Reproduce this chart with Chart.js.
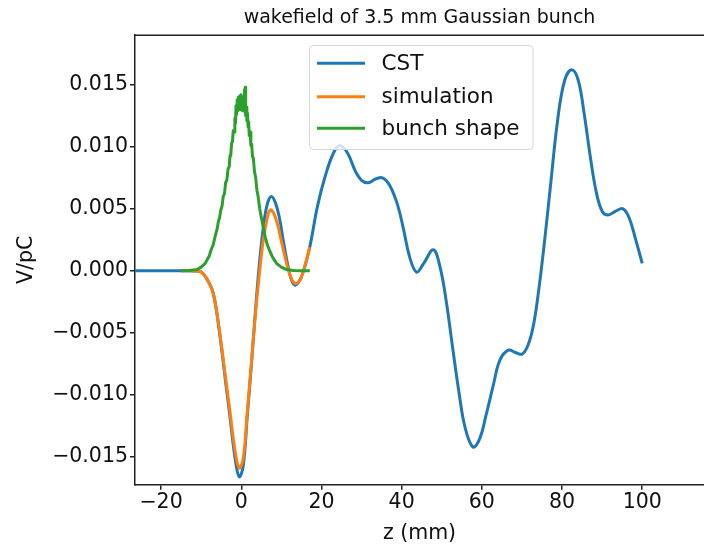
<!DOCTYPE html>
<html>
<head>
<meta charset="utf-8">
<script src="https://cdn.jsdelivr.net/npm/chart.js@4.4.1/dist/chart.umd.min.js"></script>
<style>
  html, body { margin: 0; padding: 0; background: #fff; }
</style>
</head>
<body>
<canvas id="chart" width="704" height="549"></canvas>
<script>
// ============================
// Data
// ============================
const titleText = "wakefield of 3.5 mm Gaussian bunch";
const seriesNames = ["CST", "simulation", "bunch shape"];
const seriesColors = ["#1f77b4", "#ff7f0e", "#2ca02c"];

const xTicks = [-20, 0, 20, 40, 60, 80, 100];
const yTicks = [-0.015, -0.010, -0.005, 0.000, 0.005, 0.010, 0.015];
const xMin = -26.5, xMax = 115.4;
const yMin = -0.01724, yMax = 0.01901;

const cstZ = [-26.5, -14, -12, -10, -8.5, -7, -5.5, -4, -2.8, -1.5, -0.5, 0.5, 1.5, 2.5, 3.5, 4.5, 5.5, 6.5, 7.5, 8.5,
  9.5, 10.5, 11.7, 12.6, 13.5, 15, 17, 19, 21, 23, 24.6, 26.5, 28.5, 30, 31.6, 33.5, 35.2, 37, 39, 40.5,
  42, 43.7, 45.5, 47.9, 49.5, 51, 52.8, 54.3, 55.8, 57.8, 59.5, 61, 62.8, 64.5, 66.6, 68.5, 70.1, 71.5, 72.8, 74,
  75.5, 77, 79, 80.7, 82.4, 84, 85.5, 87, 88.5, 90, 91.5, 93.3, 95.2, 96.7, 98.3, 100];
const cstV = [0, 0, -0.00002, -0.0001, -0.0007, -0.0018, -0.0048, -0.0087, -0.0118, -0.0152, -0.0166, -0.0157, -0.0117, -0.0077, -0.0034, 0.0005, 0.0035, 0.0054, 0.0060, 0.0055,
  0.0043, 0.0024, 0.0003, -0.0008, -0.00115, -0.0005, 0.0018, 0.0052, 0.0077, 0.0095, 0.0101, 0.0095, 0.0080, 0.0073, 0.0071, 0.0074, 0.0075, 0.0069, 0.0053, 0.0033,
  0.0011, -0.0001, 0.0006, 0.0017, 0.0004, -0.0022, -0.0064, -0.0098, -0.0126, -0.0142, -0.0135, -0.0117, -0.0093, -0.0072, -0.0064, -0.0066, -0.0067, -0.0060, -0.0045, -0.0020,
  0.0020, 0.0065, 0.0124, 0.0154, 0.0162, 0.0154, 0.0127, 0.0093, 0.0064, 0.0048, 0.0045, 0.0048, 0.0050, 0.0043, 0.0026, 0.0006];

const simZ = [-15, -12, -10, -8.5, -7, -5.5, -4, -2.8, -1.5, -0.5, 0.5, 1.5, 2.5, 3.5, 4.5, 5.5, 6.5, 7.2, 8, 9,
  10, 11, 12, 13.3, 14.5, 15.5, 17.1];
const simV = [0, 0, -0.0001, -0.0007, -0.0018, -0.0047, -0.0084, -0.0114, -0.0146, -0.0159, -0.0151, -0.0114, -0.0075, -0.0036, -0.0003, 0.0025, 0.0043, 0.0049, 0.0047, 0.0038,
  0.0024, 0.0010, -0.0002, -0.0010, -0.0008, 0.0000, 0.0019];

const bunchZ = [-15, -13, -11, -10, -9, -8, -7.5, -7, -6.5, -6, -5.7, -5.4, -5.1, -4.8, -4.5, -4.2, -3.9, -3.6, -3.3, -3.0,
  -2.8, -2.6, -2.4, -2.2, -2.0, -1.8, -1.6, -1.45, -1.3, -1.15, -1.0, -0.85, -0.7, -0.55, -0.4, -0.25, -0.1, 0.05, 0.2, 0.35,
  0.5, 0.65, 0.8, 0.9, 1.0, 1.1, 1.25, 1.4, 1.55, 1.7, 1.85, 2.0, 2.2, 2.4, 2.6, 2.8, 3.0, 3.3, 3.6, 3.9,
  4.2, 4.6, 5.0, 5.5, 6.0, 6.5, 7.1, 7.8, 8.8, 10, 11.3, 13, 15, 17.1];
const bunchV = [0, 0.00002, 0.0001, 0.0003, 0.0006, 0.0012, 0.0017, 0.0021, 0.0028, 0.0034, 0.0040, 0.0043, 0.0049, 0.0052, 0.0060, 0.0062, 0.0071, 0.0073, 0.0082, 0.0084,
  0.0093, 0.0094, 0.0103, 0.0104, 0.0113, 0.0112, 0.0123, 0.0119, 0.0133, 0.0126, 0.0138, 0.0129, 0.0140, 0.0131, 0.0141, 0.0130, 0.0142, 0.0131, 0.0140, 0.0129,
  0.0139, 0.0130, 0.0146, 0.0128, 0.0148, 0.0125, 0.0132, 0.0121, 0.0127, 0.0116, 0.0120, 0.0109, 0.0112, 0.0101, 0.0102, 0.0092, 0.0091, 0.0080, 0.0075, 0.0065,
  0.0060, 0.0050, 0.0043, 0.0035, 0.0027, 0.0021, 0.0016, 0.0011, 0.0006, 0.0003, 0.0001, 0.00003, 0, 0];

function toPoints(zs, vs) {
  return zs.map((z, i) => ({ x: z, y: vs[i] }));
}

function fmtMinus(s) {
  return s.replace("-", "\u2212");
}

const FONT = "'DejaVu Sans', sans-serif";
const TEXT = "#111";
const AXIS = "#222";

// ============================
// Plugins: top frame + legend box
// ============================
const framePlugin = {
  id: "frame",
  afterDraw(chart) {
    const { ctx, chartArea } = chart;
    ctx.save();
    ctx.strokeStyle = AXIS;
    ctx.lineWidth = 1.5;
    ctx.beginPath();
    ctx.moveTo(chartArea.left, chartArea.top + 0.25);
    ctx.lineTo(chartArea.right, chartArea.top + 0.25);
    ctx.stroke();
    ctx.restore();
  }
};

const legendPlugin = {
  id: "boxLegend",
  afterDraw(chart) {
    const ctx = chart.ctx;
    const x0 = 309.5, y0 = 45.5, w = 223.5, h = 104, r = 4;
    ctx.save();
    ctx.beginPath();
    ctx.roundRect(x0, y0, w, h, r);
    ctx.fillStyle = "rgba(255,255,255,0.8)";
    ctx.fill();
    ctx.strokeStyle = "#d6d6d6";
    ctx.lineWidth = 1;
    ctx.stroke();
    const rows = [63.3, 96.7, 128.3];
    chart.data.datasets.forEach((ds, i) => {
      ctx.strokeStyle = ds.borderColor;
      ctx.lineWidth = 3;
      ctx.beginPath();
      ctx.moveTo(317, rows[i]);
      ctx.lineTo(365, rows[i]);
      ctx.stroke();
      ctx.fillStyle = TEXT;
      ctx.font = "21.5px " + FONT;
      ctx.textBaseline = "middle";
      ctx.textAlign = "left";
      ctx.fillText(ds.label, 381.5, rows[i] + 1);
    });
    ctx.restore();
  }
};

// ============================
// Chart
// ============================
const ctx = document.getElementById("chart").getContext("2d");
const chart = new Chart(ctx, {
  type: "line",
  data: {
    datasets: [{
      label: seriesNames[0],
      data: toPoints(cstZ, cstV),
      borderColor: seriesColors[0],
      tension: 0.4,
      order: 2
    }, {
      label: seriesNames[1],
      data: toPoints(simZ, simV),
      borderColor: seriesColors[1],
      tension: 0.4,
      order: 1
    }, {
      label: seriesNames[2],
      data: toPoints(bunchZ, bunchV),
      borderColor: seriesColors[2],
      tension: 0,
      borderWidth: 3,
      order: 0
    }]
  },
  options: {
    responsive: false,
    animation: false,
    devicePixelRatio: 1,
    layout: { padding: 0 },
    elements: {
      point: { radius: 0 },
      line: { borderWidth: 3, fill: false, borderJoinStyle: "round", borderCapStyle: "butt" }
    },
    plugins: {
      legend: { display: false },
      tooltip: { enabled: false },
      title: {
        display: true,
        text: titleText,
        fullSize: false,
        color: TEXT,
        font: { family: FONT, size: 19, weight: "normal" },
        padding: { top: 7, bottom: 5.2 }
      }
    },
    scales: {
      x: {
        type: "linear",
        min: xMin,
        max: xMax,
        afterBuildTicks: s => { s.ticks = xTicks.map(v => ({ value: v })); },
        afterFit: s => { s.height = 64.3; },
        grid: { drawOnChartArea: false, drawTicks: true, tickLength: 5, color: AXIS, lineWidth: 1.5 },
        border: { display: true, color: AXIS, width: 1.5 },
        ticks: {
          autoSkip: false, maxRotation: 0, padding: 1,
          color: TEXT, font: { family: FONT, size: 20.5 },
          callback: v => fmtMinus(String(v))
        },
        title: {
          display: true, text: "z (mm)", color: TEXT,
          font: { family: FONT, size: 20.5 },
          padding: { top: 0, bottom: 3 }
        }
      },
      y: {
        min: yMin,
        max: yMax,
        afterBuildTicks: s => { s.ticks = yTicks.map(v => ({ value: v })); },
        afterFit: s => { s.width = 135; },
        grid: { drawOnChartArea: false, drawTicks: true, tickLength: 5, color: AXIS, lineWidth: 1.5 },
        border: { display: true, color: AXIS, width: 1.5 },
        ticks: {
          autoSkip: false, padding: 2,
          color: TEXT, font: { family: FONT, size: 20.5 },
          callback: v => fmtMinus(Number(v).toFixed(3))
        },
        title: {
          display: true, text: "V/pC", color: TEXT,
          font: { family: FONT, size: 20.5 },
          padding: { top: 14, bottom: 0 }
        }
      }
    }
  },
  plugins: [framePlugin, legendPlugin]
});
</script>
</body>
</html>
